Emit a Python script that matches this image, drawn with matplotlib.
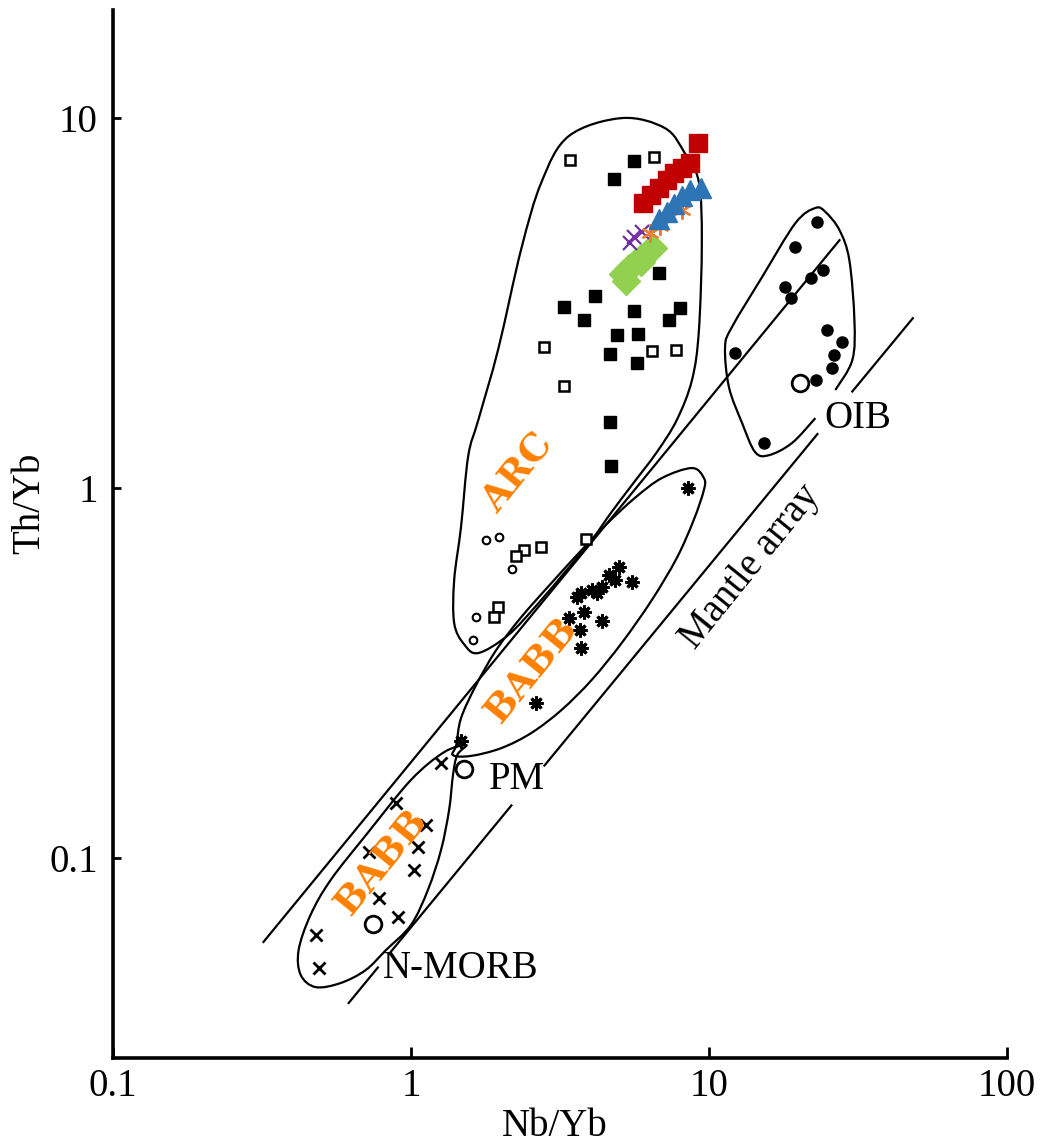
import numpy as np
import matplotlib
matplotlib.use("Agg")
import matplotlib.pyplot as plt
from matplotlib.path import Path
from matplotlib.patches import PathPatch
from matplotlib.ticker import NullLocator

plt.rcParams['font.family'] = 'serif'
plt.rcParams['font.serif'] = ['Liberation Serif']
SERIF = 'Liberation Serif'
SLAB = 'DejaVu Serif'

# ---------------- data (log10 Nb/Yb , log10 Th/Yb) ----------------
# field outlines
arc_lx = [0.707, 0.529, 0.438, 0.370, 0.293, 0.226, 0.192, 0.168, 0.145, 0.145, 0.178, 0.226,
          0.327, 0.428, 0.522, 0.606, 0.673, 0.747, 0.825, 0.892, 0.943, 0.966, 0.976, 0.966,
          0.919, 0.852]
arc_ly = [1.000, 0.951, 0.827, 0.646, 0.376, 0.184, 0.086, -0.105, -0.249, -0.365, -0.422, -0.446,
          -0.397, -0.311, -0.222, -0.141, -0.065, 0.014, 0.097, 0.184, 0.292, 0.424, 0.665, 0.827,
          0.905, 0.973]

babb_up_lx = [0.983, 0.943, 0.842, 0.751, 0.657, 0.572, 0.471, 0.370, 0.286, 0.219, 0.168, 0.152,
              0.141, 0.202, 0.303, 0.404, 0.505, 0.606, 0.707, 0.808, 0.892, 0.949, 0.983]
babb_up_ly = [0.027, 0.054, 0.027, -0.027, -0.097, -0.168, -0.257, -0.349, -0.438, -0.532, -0.622,
              -0.695, -0.722, -0.724, -0.703, -0.662, -0.600, -0.519, -0.419, -0.303, -0.189,
              -0.086, -0.005]

babb_lo_lx = [0.185, 0.111, 0.000, -0.145, -0.269, -0.337, -0.377, -0.370, -0.320, -0.236, -0.152,
              -0.084, 0.000, 0.057, 0.101, 0.128, 0.141, 0.155]
babb_lo_ly = [-0.695, -0.714, -0.789, -0.932, -1.059, -1.154, -1.249, -1.316, -1.349, -1.338,
              -1.303, -1.249, -1.181, -1.086, -0.978, -0.870, -0.776, -0.722]

oib_lx = [1.357, 1.279, 1.202, 1.155, 1.111, 1.067, 1.054, 1.077, 1.178, 1.290, 1.357, 1.391,
          1.438, 1.471, 1.488, 1.481, 1.424]
oib_ly = [0.189, 0.122, 0.089, 0.097, 0.176, 0.273, 0.381, 0.435, 0.570, 0.716, 0.757, 0.746,
          0.697, 0.616, 0.454, 0.346, 0.265]

# straight boundary lines (segments: x0, y0, x1, y1)
upper_line = [(-0.495, -1.227, 1.438, 0.670)]
mantle_line = [(-0.209, -1.392, -0.111, -1.296),
               (-0.067, -1.253, 0.337, -0.858),
               (0.448, -0.750, 1.364, 0.146),
               (1.481, 0.261, 1.684, 0.459)]

# sample points
arc_fsq_lx = [0.747, 0.680, 0.832, 0.616, 0.515, 0.579, 0.747, 0.902, 0.865, 0.690, 0.761, 0.667,
              0.758, 0.667, 0.670]
arc_fsq_ly = [0.884, 0.835, 0.581, 0.519, 0.489, 0.454, 0.478, 0.486, 0.454, 0.414, 0.416, 0.362,
              0.338, 0.178, 0.059]
arc_osq_lx = [0.532, 0.815, 0.448, 0.515, 0.808, 0.889, 0.589, 0.438, 0.380, 0.354, 0.293, 0.279]
arc_osq_ly = [0.886, 0.895, 0.381, 0.276, 0.370, 0.373, -0.138, -0.159, -0.168, -0.184, -0.322,
              -0.349]
arc_oc_lx = [0.253, 0.296, 0.340, 0.219, 0.209]
arc_oc_ly = [-0.141, -0.132, -0.219, -0.349, -0.411]

babb_star_lx = [0.929, 0.697, 0.663, 0.684, 0.741, 0.640, 0.606, 0.572, 0.556, 0.623, 0.582,
                0.529, 0.640, 0.566, 0.572, 0.421, 0.168]
babb_star_ly = [0.000, -0.214, -0.235, -0.249, -0.254, -0.268, -0.276, -0.284, -0.295, -0.284,
                -0.335, -0.351, -0.359, -0.384, -0.432, -0.581, -0.684]
babb_x_lx = [0.101, -0.051, 0.051, -0.141, 0.024, 0.010, -0.108, -0.044, -0.320, -0.310]
babb_x_ly = [-0.743, -0.851, -0.911, -0.984, -0.970, -1.032, -1.108, -1.159, -1.208, -1.297]

oib_pt_lx = [1.364, 1.290, 1.384, 1.343, 1.256, 1.276, 1.088, 1.397, 1.448, 1.421, 1.414, 1.360,
             1.185]
oib_pt_ly = [0.719, 0.651, 0.589, 0.568, 0.543, 0.514, 0.365, 0.427, 0.395, 0.359, 0.324, 0.292,
             0.122]

ref_names = ['N-MORB', 'PM', 'OIB']
ref_lx = [-0.128, 0.178, 1.306]
ref_ly = [-1.178, -0.759, 0.284]

red_lx = [0.963, 0.936, 0.909, 0.882, 0.859, 0.832, 0.805, 0.778]
red_ly = [0.932, 0.878, 0.866, 0.851, 0.832, 0.811, 0.792, 0.770]
blue_lx = [0.973, 0.936, 0.909, 0.882, 0.859, 0.832]
blue_ly = [0.811, 0.805, 0.789, 0.768, 0.746, 0.727]
orange_lx = [0.835, 0.909, 0.801]
orange_ly = [0.708, 0.751, 0.689]
purple_lx = [0.747, 0.774, 0.734]
purple_ly = [0.678, 0.692, 0.662]
green_lx = [0.811, 0.791, 0.771, 0.751, 0.731, 0.710, 0.771, 0.721]
green_ly = [0.649, 0.635, 0.622, 0.608, 0.595, 0.578, 0.611, 0.559]

# labels: text, log x, log y, rotation, color, bold, size
labels = [("ARC", 0.360, 0.040, 51, '#FF8000', True, 27),
          ("BABB", 0.404, -0.492, 51, '#FF8000', True, 27),
          ("BABB", -0.101, -1.011, 51, '#FF8000', True, 27),
          ("Mantle array", 1.138, -0.214, 51, 'black', False, 28),
          ("OIB", 1.498, 0.189, 0, 'black', False, 28),
          ("PM", 0.354, -0.789, 0, 'black', False, 28),
          ("N-MORB", 0.168, -1.300, 0, 'black', False, 28)]

xticks = [0.1, 1, 10, 100]
xticklabels = ['0.1', '1', '10', '100']
yticks = [0.1, 1, 10]
yticklabels = ['0.1', '1', '10']


def smooth_path(lx, ly, closed=True):
    P = np.column_stack([lx, ly]).astype(float)
    n = len(P)
    verts = [P[0]]
    codes = [Path.MOVETO]
    nseg = n if closed else n - 1
    for i in range(nseg):
        p1 = P[i]
        p2 = P[(i + 1) % n]
        p0 = P[(i - 1) % n] if (closed or i > 0) else P[i]
        p3 = P[(i + 2) % n] if (closed or i + 2 < n) else P[(i + 1) % n]
        c1 = p1 + (p2 - p0) / 6.0
        c2 = p2 - (p3 - p1) / 6.0
        verts += [c1, c2, p2]
        codes += [Path.CURVE4] * 3
    return Path(10 ** np.array(verts), codes)


def p10(a):
    return 10 ** np.asarray(a, dtype=float)


fig = plt.figure(figsize=(10.42, 11.46), dpi=100)
ax = fig.add_axes([0.1084, 0.0768, 0.858, 0.9145])
ax.set_xscale('log')
ax.set_yscale('log')
ax.set_xlim(0.1, 100)
ax.set_ylim(0.0288, 19.6)

for s in ['top', 'right']:
    ax.spines[s].set_visible(False)
for s in ['left', 'bottom']:
    ax.spines[s].set_linewidth(2.6)

ax.set_xticks(xticks)
ax.set_xticklabels(xticklabels, fontfamily=SERIF)
ax.set_yticks(yticks)
ax.set_yticklabels(yticklabels, fontfamily=SERIF)
ax.xaxis.set_minor_locator(NullLocator())
ax.yaxis.set_minor_locator(NullLocator())
ax.tick_params(axis='x', direction='in', length=8, width=2, pad=7, labelsize=28)
ax.tick_params(axis='y', direction='in', length=6, width=2, pad=11, labelsize=28)

lw = 1.6
for lx, ly, closed in [(arc_lx, arc_ly, True), (babb_up_lx, babb_up_ly, True),
                       (babb_lo_lx, babb_lo_ly, True), (oib_lx, oib_ly, False)]:
    ax.add_patch(PathPatch(smooth_path(lx, ly, closed), fill=False, lw=lw, ec='black', zorder=2))

for seg in upper_line + mantle_line:
    ax.plot(p10([seg[0], seg[2]]), p10([seg[1], seg[3]]), color='black', lw=lw, zorder=2)

ax.plot(p10(arc_fsq_lx), p10(arc_fsq_ly), 's', ms=8, color='black', zorder=3)
ax.plot(p10(arc_osq_lx), p10(arc_osq_ly), 's', ms=7.5, mfc='white', mec='black', mew=1.8, zorder=3)
ax.plot(p10(arc_oc_lx), p10(arc_oc_ly), 'o', ms=5.5, mfc='white', mec='black', mew=1.5, zorder=3)
ax.plot(p10(babb_star_lx), p10(babb_star_ly), marker=(8, 2, 0), ls='none', ms=10, color='black',
        mew=2.2, zorder=3)
ax.plot(p10(babb_x_lx), p10(babb_x_ly), 'x', ms=8, color='black', mew=2, zorder=3)
ax.plot(p10(oib_pt_lx), p10(oib_pt_ly), 'o', ms=8, color='black', zorder=3)
ax.plot(p10(ref_lx), p10(ref_ly), 'o', ms=12, mfc='white', mec='black', mew=2, zorder=4)

ax.plot(p10(green_lx), p10(green_ly), 'D', ms=14, color='#92D050', zorder=5)
ax.plot(p10(purple_lx), p10(purple_ly), 'x', ms=10, color='#7030A0', mew=1.6, zorder=5)
ax.plot(p10(orange_lx), p10(orange_ly), marker=(6, 2, 0), ls='none', ms=13, color='#ED7D31',
        mew=1.6, zorder=5)
ax.plot(p10(red_lx), p10(red_ly), 's', ms=13.5, color='#C00000', zorder=6)
ax.plot(p10(blue_lx), p10(blue_ly), '^', ms=15, color='#2E75B6', zorder=7)

for txt, lx, ly, rot, col, bold, size in labels:
    ax.text(10 ** lx, 10 ** ly, txt, rotation=rot, rotation_mode='anchor', ha='center',
            va='center', color=col, fontsize=size, fontweight='bold' if bold else 'normal',
            fontfamily=SLAB if bold else SERIF, zorder=8)

fig.text(555 / 1042, 1 - 1126 / 1146, 'Nb/Yb', ha='center', va='center', fontsize=28,
         fontfamily=SERIF)
fig.text(30 / 1042, 1 - 503 / 1146, 'Th/Yb', ha='center', va='center', rotation=90, fontsize=28,
         fontfamily=SERIF)

fig.savefig('out.png', dpi=100)
